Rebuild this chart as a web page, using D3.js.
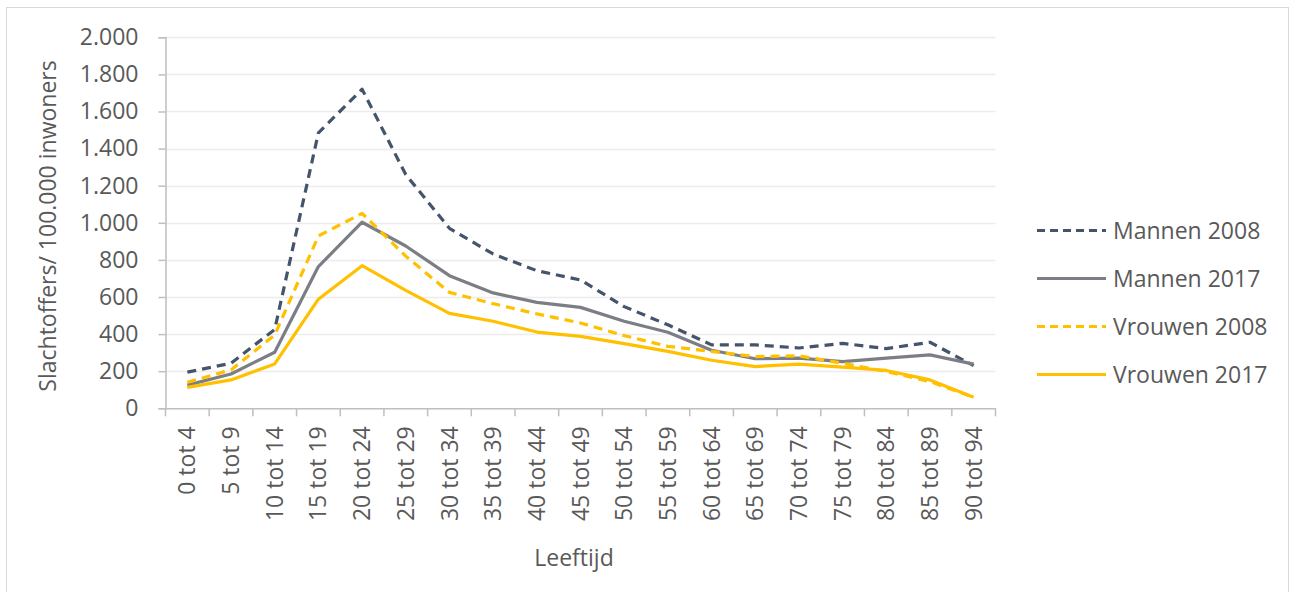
<!DOCTYPE html>
<html>
<head>
<meta charset="utf-8">
<script src="https://cdn.jsdelivr.net/npm/d3@7"></script>
<style>
  body { margin: 0; background: #fff; }
  svg text { font-family: "Open Sans", sans-serif; fill: #595959; }
</style>
</head>
<body>
<div id="chart"></div>
<script>
var ageGroups = ['0 tot 4', '5 tot 9', '10 tot 14', '15 tot 19', '20 tot 24', '25 tot 29', '30 tot 34',
  '35 tot 39', '40 tot 44', '45 tot 49', '50 tot 54', '55 tot 59', '60 tot 64', '65 tot 69',
  '70 tot 74', '75 tot 79', '80 tot 84', '85 tot 89', '90 tot 94'];

var mannen2008 = [195, 243, 425, 1485, 1720, 1260, 970, 832, 742, 692, 548, 450, 342, 342, 325, 350, 322, 356, 230];
var mannen2017 = [125, 185, 302, 764, 1003, 875, 715, 622, 571, 544, 469, 410, 313, 267, 270, 252, 270, 288, 238];
var vrouwen2008 = [140, 207, 395, 929, 1051, 820, 625, 564, 509, 460, 392, 334, 307, 279, 283, 243, 198, 144, 59];
var vrouwen2017 = [113, 153, 239, 588, 769, 636, 512, 469, 411, 388, 349, 307, 259, 225, 238, 222, 204, 153, 59];

var yTicks = [0, 200, 400, 600, 800, 1000, 1200, 1400, 1600, 1800, 2000];

var series = [
  { name: 'Mannen 2008', values: mannen2008, color: '#44546a', dash: '9,6' },
  { name: 'Mannen 2017', values: mannen2017, color: '#7b7f85', dash: null },
  { name: 'Vrouwen 2008', values: vrouwen2008, color: '#ffc000', dash: '9,6' },
  { name: 'Vrouwen 2017', values: vrouwen2017, color: '#ffc000', dash: null }
];

var width = 1289;
var height = 592;
var margin = { left: 165.5, right: 293.5, top: 37.3, bottom: 183.7 };
var fontSize = '23px';

var svg = d3.select('#chart')
  .append('svg')
  .attr('width', width)
  .attr('height', height);

// chart border
svg.append('rect')
  .attr('x', 6.5)
  .attr('y', 7.5)
  .attr('width', width - 7)
  .attr('height', height - 7)
  .attr('fill', 'none')
  .attr('stroke', '#d9d9d9');

var x = d3.scaleBand()
  .domain(ageGroups)
  .range([margin.left, width - margin.right]);

var y = d3.scaleLinear()
  .domain([0, 2000])
  .range([height - margin.bottom, margin.top]);

var fmt = function(v){
  return d3.format(',')(v).replace(/,/g, '.');
};

// gridlines
svg.append('g')
  .selectAll('line')
  .data(yTicks.slice(1))
  .enter()
  .append('line')
  .attr('x1', margin.left)
  .attr('x2', width - margin.right)
  .attr('y1', function(d){ return Math.round(y(d)) + 0.5; })
  .attr('y2', function(d){ return Math.round(y(d)) + 0.5; })
  .attr('stroke', '#ececec')
  .attr('stroke-width', 1.5);

// y axis
var yAxis = svg.append('g')
  .attr('transform', 'translate(' + margin.left + ',0)')
  .call(d3.axisLeft(y).tickValues(yTicks).tickFormat(fmt).tickSize(7).tickPadding(20));
yAxis.select('.domain').attr('stroke', '#bfbfbf').attr('stroke-width', 1.5);
yAxis.selectAll('.tick line').attr('stroke', '#bfbfbf').attr('stroke-width', 1.5);
yAxis.selectAll('.tick text')
  .style('font-size', fontSize)
  .style('font-family', '"Open Sans", sans-serif')
  .attr('fill', '#595959');

// x axis
var xAxis = svg.append('g')
  .attr('transform', 'translate(0,' + y(0) + ')')
  .call(d3.axisBottom(x).tickSize(0).tickPadding(0));
xAxis.select('.domain').attr('stroke', '#bfbfbf').attr('stroke-width', 1.5);
xAxis.selectAll('.tick text')
  .style('font-size', fontSize)
  .style('font-family', '"Open Sans", sans-serif')
  .attr('fill', '#595959')
  .attr('text-anchor', 'end')
  .attr('transform', 'rotate(-90)')
  .attr('x', -18)
  .attr('y', 0)
  .attr('dy', '0.35em');

// x tick marks at band edges
var edges = ageGroups.map(function(d){ return x(d); }).concat([x.range()[1]]);
xAxis.selectAll('.edge')
  .data(edges)
  .enter()
  .append('line')
  .attr('class', 'edge')
  .attr('x1', function(d){ return d; })
  .attr('x2', function(d){ return d; })
  .attr('y1', 0)
  .attr('y2', 8)
  .attr('stroke', '#bfbfbf')
  .attr('stroke-width', 1.5);

// lines
var line = d3.line()
  .x(function(d, i){ return x(ageGroups[i]) + x.bandwidth() / 2; })
  .y(function(d){ return y(d); });

series.forEach(function(s){
  svg.append('path')
    .datum(s.values)
    .attr('d', line)
    .attr('fill', 'none')
    .attr('stroke', s.color)
    .attr('stroke-width', 3.2)
    .attr('stroke-linejoin', 'round')
    .attr('stroke-dasharray', s.dash);
});

// axis titles
svg.append('text')
  .attr('transform', 'translate(56,226) rotate(-90)')
  .attr('text-anchor', 'middle')
  .style('font-size', fontSize)
  .text('Slachtoffers/ 100.000 inwoners');

svg.append('text')
  .attr('x', 574)
  .attr('y', 566)
  .attr('text-anchor', 'middle')
  .style('font-size', fontSize)
  .text('Leeftijd');

// legend
var legend = svg.append('g');
var legendY = [230.5, 278.5, 326.5, 374.5];
series.forEach(function(s, i){
  legend.append('line')
    .attr('x1', 1037)
    .attr('x2', 1106)
    .attr('y1', legendY[i])
    .attr('y2', legendY[i])
    .attr('stroke', s.color)
    .attr('stroke-width', 3.2)
    .attr('stroke-dasharray', s.dash ? '8,5' : null);
  legend.append('text')
    .attr('x', 1113)
    .attr('y', legendY[i])
    .attr('dy', '0.35em')
    .style('font-size', fontSize)
    .text(s.name);
});
</script>
</body>
</html>
